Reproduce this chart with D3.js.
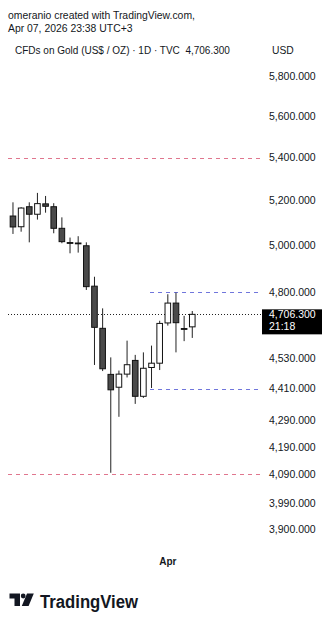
<!DOCTYPE html>
<html>
<head>
<meta charset="utf-8">
<script src="https://cdn.jsdelivr.net/npm/d3@7/dist/d3.min.js"></script>
<style>
  html, body { margin: 0; padding: 0; background: #fff; }
  svg { display: block; }
  text { font-family: "Liberation Sans", Arial, Helvetica, sans-serif; }
</style>
</head>
<body>
<svg id="chart" width="335" height="625"></svg>
<script>
// ---- data ----
const dates = ["2026-03-05","2026-03-06","2026-03-09","2026-03-10","2026-03-11","2026-03-12","2026-03-13",
  "2026-03-16","2026-03-17","2026-03-18","2026-03-19","2026-03-20","2026-03-23","2026-03-24","2026-03-25",
  "2026-03-26","2026-03-27","2026-03-30","2026-03-31","2026-04-01","2026-04-02","2026-04-06","2026-04-07"];
const opens  = [5130,5082,5172,5138,5185,5172,5075,5012,5009,4998,4824,4649,4465,4415,4466,4520,4380,4492,4509,4671,4753,4648,4655];
const highs  = [5192,5170,5192,5235,5221,5188,5124,5034,5040,5013,4864,4731,4532,4480,4599,4542,4552,4579,4680,4790,4797,4700,4720];
const lows   = [5050,5060,5013,5114,5145,5053,5009,4965,4968,4808,4502,4478,4096,4302,4453,4351,4374,4412,4482,4660,4552,4597,4610];
const closes = [5081,5166,5138,5186,5174,5075,5016,5009,5010,4822,4653,4487,4405,4466,4503,4380,4489,4509,4669,4753,4672,4645,4706.3];

const priceTicks = [5800,5600,5400,5200,5000,4800,4530,4410,4290,4190,4090,3990,3900];
const monthTicks = [{date:"2026-04-01", label:"Apr"}];
const redLevels = [5400, 4090];
const blueLevels = [4800, 4410];
const blueStart = "2026-03-30";
const lastPrice = 4706.3;
const lastTime = "21:18";

const headerLine1 = "omeranio created with TradingView.com,";
const headerLine2 = "Apr 07, 2026 23:38 UTC+3";
const titleText = "CFDs on Gold (US$ / OZ) · 1D · TVC  4,706.300";
const currency = "USD";

// ---- drawing ----
const svg = d3.select("#chart");
svg.append("rect").attr("width",335).attr("height",625).attr("fill","#fff");

const y = d3.scaleLog().domain([3900, 5800]).range([528.7, 76]);
const x = d3.scaleBand().domain(dates).range([8.9, 8.9 + 8.15*dates.length]).padding(0);
const cx = d => x(d) + x.bandwidth()/2;
const plotLeft = 8, plotRight = 262;

// header
svg.append("text").attr("x",8).attr("y",19).attr("font-size",10.4).attr("fill","#131722").text(headerLine1);
svg.append("text").attr("x",8).attr("y",32).attr("font-size",10.4).attr("fill","#131722").text(headerLine2);
svg.append("text").attr("x",15).attr("y",54).attr("font-size",10).attr("fill","#131722")
  .style("white-space","pre").text(titleText);
svg.append("text").attr("x",272).attr("y",54).attr("font-size",10.3).attr("fill","#131722").text(currency);

// level lines
svg.selectAll("line.red").data(redLevels).join("line")
  .attr("x1",plotLeft).attr("x2",plotRight)
  .attr("y1",d=>Math.round(y(d))+0.5).attr("y2",d=>Math.round(y(d))+0.5)
  .attr("stroke","#e0768e").attr("stroke-width",1).attr("stroke-dasharray","4,4");
svg.selectAll("line.blue").data(blueLevels).join("line")
  .attr("x1",cx(blueStart)-1.5).attr("x2",plotRight)
  .attr("y1",d=>Math.round(y(d))+0.5).attr("y2",d=>Math.round(y(d))+0.5)
  .attr("stroke","#7076dc").attr("stroke-width",1).attr("stroke-dasharray","4,4");

// current price dotted line
svg.append("line").attr("x1",plotLeft).attr("x2",plotRight)
  .attr("y1",Math.round(y(lastPrice))+0.5).attr("y2",Math.round(y(lastPrice))+0.5)
  .attr("stroke","#222").attr("stroke-width",1).attr("stroke-dasharray","1,2");

// candles
const candles = dates.map((d,i)=>({d, o:opens[i], h:highs[i], l:lows[i], c:closes[i]}));
const bodyW = 5.6;
const g = svg.append("g");
g.selectAll("line.wick").data(candles).join("line")
  .attr("x1",d=>cx(d.d)).attr("x2",d=>cx(d.d))
  .attr("y1",d=>y(d.h)).attr("y2",d=>y(d.l))
  .attr("stroke","#222").attr("stroke-width",1);
g.selectAll("rect.body").data(candles).join("rect")
  .attr("x",d=>cx(d.d)-bodyW/2).attr("width",bodyW)
  .attr("y",d=>y(Math.max(d.o,d.c)))
  .attr("height",d=>Math.max(0.8, Math.abs(y(d.o)-y(d.c))))
  .attr("fill",d=>d.c>=d.o ? "#ffffff" : "#4a4a4a")
  .attr("stroke","#111").attr("stroke-width",1);

// y axis
const yAxis = d3.axisRight(y).tickValues(priceTicks).tickFormat(d3.format(",.3f")).tickSize(0).tickPadding(0);
const ag = svg.append("g").attr("transform","translate(269,0)").call(yAxis);
ag.select(".domain").remove();
ag.selectAll("text").attr("font-size",10.5).attr("fill","#131722")
  .attr("font-family","'Liberation Sans', Arial, sans-serif");

// price label
const py = y(lastPrice);
svg.append("rect").attr("x",262).attr("y",py-5).attr("width",60).attr("height",25).attr("fill","#000");
svg.append("text").attr("x",269).attr("y",py+4).attr("font-size",10.5).attr("fill","#fff")
  .text(d3.format(",.3f")(lastPrice));
svg.append("text").attr("x",269).attr("y",py+15.5).attr("font-size",10.5).attr("fill","#fff").text(lastTime);

// x axis
const xAxis = d3.axisBottom(x).tickValues(monthTicks.map(m=>m.date))
  .tickFormat(d=>monthTicks.find(m=>m.date===d).label).tickSize(0).tickPadding(0);
const xg = svg.append("g").attr("transform","translate(0,558)").call(xAxis);
xg.select(".domain").remove();
xg.selectAll("text").attr("font-size",10).attr("font-weight","bold").attr("fill","#131722")
  .attr("font-family","'Liberation Sans', Arial, sans-serif");

// logo
const logo = svg.append("g").attr("fill","#131722");
logo.append("path").attr("d","M9.5,593.5 H20 V606 H14.5 V598.5 H9.5 Z");
logo.append("circle").attr("cx",23.2).attr("cy",596).attr("r",2.4);
logo.append("path").attr("d","M27,593.5 H33.8 L28.6,606 H21.8 Z");
svg.append("text").attr("x",40).attr("y",607.5).attr("font-size",17.5).attr("font-weight","bold")
  .attr("fill","#131722").attr("textLength",98).attr("lengthAdjust","spacingAndGlyphs").text("TradingView");
</script>
</body>
</html>
